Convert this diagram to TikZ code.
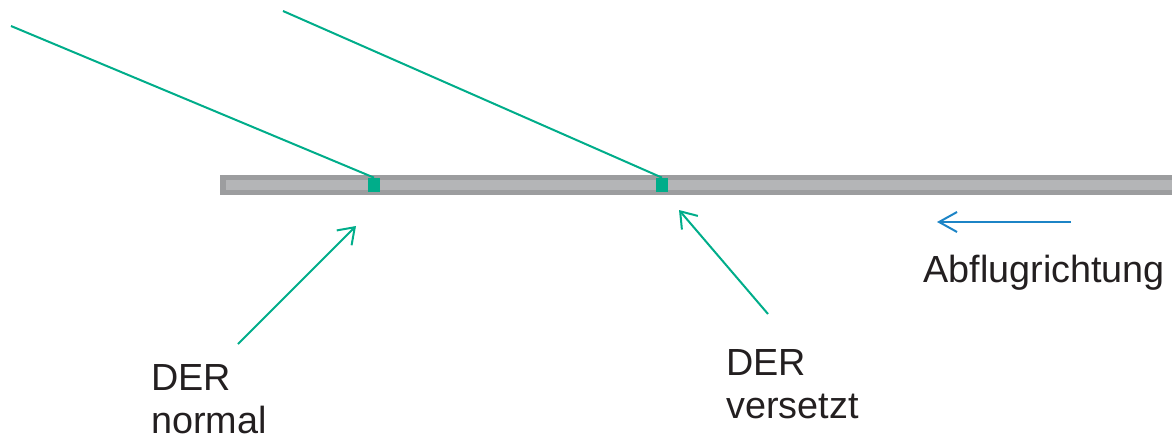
\documentclass[tikz,border=0pt]{standalone}
\usepackage{fontspec}
\setmainfont{Liberation Sans}
\usetikzlibrary{arrows.meta}
\definecolor{derGreen}{HTML}{00AD8A}
\definecolor{flyBlue}{HTML}{1C84C6}
\definecolor{barOuter}{HTML}{9C9D9F}
\definecolor{barInner}{HTML}{B4B5B7}
\definecolor{txt}{HTML}{231F20}
\tikzset{
  greenline/.style={draw=derGreen, line width=0.04cm},
  greenarrow/.style={greenline, -{Straight Barb[length=0.3cm,width=0.42cm,line width=0.04cm]}},
  bluearrow/.style={draw=flyBlue, line width=0.04cm, -{Straight Barb[length=0.36cm,width=0.4cm,line width=0.04cm]}},
  marker/.style={fill=derGreen, draw=none, minimum width=0.24cm, minimum height=0.28cm, inner sep=0pt},
  label/.style={text=txt, font=\fontsize{21.5}{24.4}\selectfont, align=left, inner sep=0pt, anchor=base west},
}
\begin{document}
\begin{tikzpicture}[x=0.02cm,y=-0.02cm]
\useasboundingbox (0,0) rectangle (1172,440);
% bar
\fill[barOuter] (220,175) rectangle (1172,195);
\fill[barInner] (226,180) rectangle (1172,190);
% markers
\node[marker] (sq1) at (374,185) {};
\node[marker] (sq2) at (662,185) {};
% incoming lines
\coordinate (l1) at (11,26);
\coordinate (l2) at (283,11);
\draw[greenline] (l1) -- (sq1.north);
\draw[greenline] (l2) -- (sq2.north);
% labels (base anchor = baseline of last line)
\node[label] (dn) at (151,433) {DER\\normal};
\node[label] (dv) at (726,418) {DER\\versetzt};
\node[label] (ab) at (923,282) {Abflugrichtung};
% pointer arrows
\coordinate (a1s) at (238,344);
\coordinate (a1e) at (356,226);
\coordinate (a2s) at (768,314);
\coordinate (a2e) at (679,210);
\draw[greenarrow] (a1s) -- (a1e);
\draw[greenarrow] (a2s) -- (a2e);
% direction arrow
\coordinate (bs) at (1071,222);
\coordinate (be) at (937,222);
\draw[bluearrow] (bs) -- (be);
\end{tikzpicture}
\end{document}
